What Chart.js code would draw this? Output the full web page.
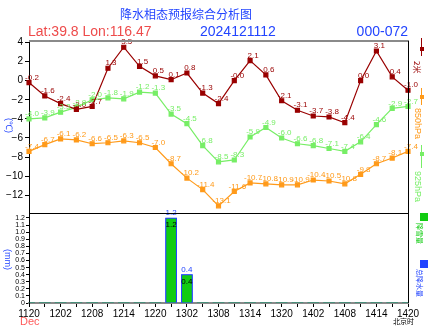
<!DOCTYPE html>
<html>
<head>
<meta charset="utf-8">
<script src="https://cdn.jsdelivr.net/npm/chart.js@4.4.1/dist/chart.umd.min.js"></script>
<style>
html, body { margin: 0; padding: 0; background: #fff; }
#wrap { width: 440px; height: 330px; position: relative; }
</style>
</head>
<body>
<div id="wrap"><canvas id="chart" width="440" height="330"></canvas></div>
<script>
// 3-hourly steps, day+hour (北京时)
const times = ["1120","1123","1202","1205","1208","1211","1214","1217","1220","1223",
  "1302","1305","1308","1311","1314","1317","1320","1323",
  "1402","1405","1408","1411","1414","1417","1420"];

// temperatures (℃)
const t2m   = [-0.2,-1.6,-2.4,-3.0,-2.7,1.3,3.5,1.5,0.5,0.1,0.8,-1.3,-2.4,-0.0,2.1,0.6,-2.1,-3.1,-3.7,-3.8,-4.4,0.0,3.1,0.4,-1.0];
const t850  = [-7.4,-6.7,-6.1,-6.2,-6.6,-6.5,-6.3,-6.5,-7.0,-8.7,-10.2,-11.4,-13.1,-11.6,-10.7,-10.8,-10.9,-10.9,-10.4,-10.5,-10.8,-9.8,-8.7,-8.1,-7.4];
const t925  = [-4.0,-3.9,-3.3,-2.8,-2.0,-1.8,-1.9,-1.2,-1.3,-3.5,-4.5,-6.8,-8.5,-8.3,-5.9,-4.9,-6.0,-6.6,-6.8,-7.1,-7.4,-6.4,-4.6,-2.9,-2.7];

// precipitation (mm)
const snowfall    = [0,0,0,0,0,0,0,0,0,1.2,0.4,0,0,0,0,0,0,0,0,0,0,0,0,0,0];
const totalPrecip = [0,0,0,0,0,0,0,0,0,1.2,0.4,0,0,0,0,0,0,0,0,0,0,0,0,0,0];

const tempTicks   = [-12,-10,-8,-6,-4,-2,0,2,4];
const precipTicks = [0,0.1,0.2,0.3,0.4,0.5,0.6,0.7,0.8,0.9,1.0,1.1,1.2];

const titleText = "降水相态预报综合分析图";
const locText = "Lat:39.8 Lon:116.47";
const runText = "2024121112";
const rangeText = "000-072";

const FONT = "'Liberation Sans', Arial, sans-serif";
const CJK = "'Noto Sans CJK SC', sans-serif";
const RED = '#990000', ORANGE = '#ff9a1a', GREEN = '#77ee66', BLUE = '#2244ff', BARGREEN = '#11cc11';

Chart.defaults.font.family = FONT;
Chart.defaults.color = '#000';

function fmt1(v) {
  if (Object.is(v, -0)) return '-0.0';
  return v.toFixed(1);
}

function vText(ctx, text, x, y, color, font) {
  ctx.save();
  ctx.translate(x, y);
  ctx.rotate(Math.PI / 2);
  ctx.font = font;
  ctx.fillStyle = color;
  ctx.textAlign = 'left';
  ctx.textBaseline = 'middle';
  ctx.fillText(text, 0, 0);
  ctx.restore();
}

const decor = {
  id: 'decor',
  afterDatasetsDraw(chart) {
    const ctx = chart.ctx, a = chart.chartArea;
    const yT = chart.scales.yT;
    ctx.save();
    // value labels on lines
    chart.data.datasets.forEach((ds, di) => {
      if (ds.type !== 'line') return;
      const meta = chart.getDatasetMeta(di);
      ctx.font = '8px ' + FONT;
      ctx.fillStyle = ds.borderColor;
      ctx.textAlign = 'center';
      ctx.textBaseline = 'bottom';
      meta.data.forEach((p, i) => ctx.fillText(fmt1(ds.data[i]), p.x + 3, p.y - 1));
    });
    // bar labels
    const mSnow = chart.getDatasetMeta(3), mTot = chart.getDatasetMeta(4);
    ctx.font = '8px ' + FONT;
    ctx.textAlign = 'center';
    mTot.data.forEach((b, i) => {
      if (!totalPrecip[i]) return;
      ctx.fillStyle = BLUE; ctx.textBaseline = 'bottom';
      ctx.fillText(fmt1(totalPrecip[i]), b.x, b.y - 1);
    });
    mSnow.data.forEach((b, i) => {
      if (!snowfall[i]) return;
      ctx.fillStyle = '#000'; ctx.textBaseline = 'top';
      ctx.fillText(fmt1(snowfall[i]), b.x, b.y + 3);
    });
    // frame
    ctx.strokeStyle = '#8a8a8a'; ctx.lineWidth = 2;
    ctx.beginPath(); ctx.moveTo(a.left, a.top); ctx.lineTo(a.right + 1, a.top); ctx.stroke();
    ctx.strokeStyle = '#000'; ctx.lineWidth = 1;
    ctx.beginPath();
    ctx.moveTo(a.left, Math.round(yT.bottom) + 0.5); ctx.lineTo(a.right, Math.round(yT.bottom) + 0.5);
    ctx.moveTo(Math.round(a.right) + 0.5, a.top); ctx.lineTo(Math.round(a.right) + 0.5, a.bottom);
    ctx.stroke();
    ctx.restore();
  },
  afterDraw(chart) {
    const ctx = chart.ctx, a = chart.chartArea;
    ctx.save();
    // titles
    ctx.textBaseline = 'middle';
    ctx.font = '12px ' + CJK; ctx.fillStyle = BLUE; ctx.textAlign = 'center';
    ctx.fillText(titleText, 186, 14);
    ctx.font = '14px ' + FONT;
    ctx.textAlign = 'left'; ctx.fillStyle = '#ee4b4b';
    ctx.fillText(locText, 28, 32);
    ctx.fillStyle = BLUE;
    ctx.fillText(runText, 200, 32);
    ctx.textAlign = 'right';
    ctx.fillText(rangeText, 408, 32);
    // axis titles
    vText(ctx, '(℃)', 8, 118, BLUE, '9px ' + FONT);
    vText(ctx, '(mm)', 7, 249, BLUE, '9px ' + FONT);
    // bottom notes
    ctx.font = '11px ' + FONT; ctx.fillStyle = '#ff5a5a'; ctx.textAlign = 'left';
    ctx.fillText('Dec', 20, 322);
    ctx.font = '7px ' + CJK; ctx.fillStyle = '#000';
    ctx.fillText('北京时', 393, 321);
    // right legend
    const lx = 421;
    const items = [
      {c: RED, y1: 38, y2: 56, m: 49, t: '2米', ty: 61},
      {c: ORANGE, y1: 88, y2: 105, m: 97, t: '850hPa', ty: 108},
      {c: GREEN, y1: 145, y2: 168, m: 154, t: '925hPa', ty: 171}
    ];
    items.forEach(it => {
      ctx.strokeStyle = it.c; ctx.lineWidth = 1;
      ctx.beginPath(); ctx.moveTo(lx + 0.5, it.y1); ctx.lineTo(lx + 0.5, it.y2); ctx.stroke();
      ctx.fillStyle = it.c; ctx.fillRect(lx - 1, it.m - 2, 4, 4);
      vText(ctx, it.t, lx - 4, it.ty, it.c, (it.t === '2米' ? '8px ' + CJK : '9px ' + FONT));
    });
    ctx.fillStyle = BARGREEN; ctx.fillRect(420, 213, 8, 8);
    vText(ctx, '降雪量', 420, 223, BARGREEN, '7px ' + CJK);
    ctx.fillStyle = BLUE; ctx.fillRect(420, 260, 8, 8);
    vText(ctx, '总降水量', 420, 269, BLUE, '7px ' + CJK);
    ctx.restore();
  }
};

new Chart(document.getElementById('chart'), {
  data: {
    labels: times,
    datasets: [
      {type: 'line', label: '2米', data: t2m, yAxisID: 'yT', borderColor: RED, backgroundColor: RED,
        borderWidth: 1.2, pointStyle: 'rect', pointRadius: 2.8, tension: 0, order: 0},
      {type: 'line', label: '850hPa', data: t850, yAxisID: 'yT', borderColor: ORANGE, backgroundColor: ORANGE,
        borderWidth: 1.2, pointStyle: 'rect', pointRadius: 2.8, tension: 0, order: 0},
      {type: 'line', label: '925hPa', data: t925, yAxisID: 'yT', borderColor: GREEN, backgroundColor: GREEN,
        borderWidth: 1.2, pointStyle: 'rect', pointRadius: 2.8, tension: 0, order: 0},
      {type: 'bar', label: '降雪量', data: snowfall, yAxisID: 'yP', backgroundColor: BARGREEN,
        borderColor: BLUE, borderWidth: c => (c.raw > 0 ? 1 : 0), borderSkipped: 'bottom',
        barThickness: 11, grouped: false, order: 1},
      {type: 'bar', label: '总降水量', data: totalPrecip, yAxisID: 'yP', backgroundColor: BLUE,
        barThickness: 11, grouped: false, order: 2}
    ]
  },
  options: {
    responsive: false,
    animation: false,
    devicePixelRatio: 1,
    layout: {padding: {top: 41, right: 32, bottom: 0, left: 0}},
    plugins: {legend: {display: false}, tooltip: {enabled: false}, title: {display: false}},
    scales: {
      x: {
        type: 'category', offset: false, position: 'bottom',
        grid: {offset: false, drawOnChartArea: false, drawTicks: true, tickLength: 4, color: '#000'},
        border: {color: '#8a8a8a', width: 2},
        ticks: {autoSkip: false, maxRotation: 0, minRotation: 0, padding: 1, font: {size: 10},
          callback: (v, i) => (i % 2 === 0 ? times[i] : '')},
        afterFit: s => { s.height = 27; }
      },
      yT: {
        type: 'linear', position: 'left', stack: 'left', stackWeight: 172, weight: 1,
        min: -13.85, max: 4.15,
        afterBuildTicks: s => { s.ticks = tempTicks.map(v => ({value: v})); },
        grid: {drawOnChartArea: false, tickLength: 4, color: '#000'},
        border: {color: '#000'},
        ticks: {autoSkip: false, padding: 2, font: {size: 10},
          callback: v => (v < 0 ? '\u2212' + Math.abs(v) : String(v))},
        afterFit: s => { s.width = 29; }
      },
      yP: {
        type: 'linear', position: 'left', stack: 'left', stackWeight: 90, weight: 0,
        min: 0, max: 1.27,
        afterBuildTicks: s => { s.ticks = precipTicks.map(v => ({value: v})); },
        grid: {drawOnChartArea: false, tickLength: 3, color: '#000'},
        border: {color: '#000'},
        ticks: {autoSkip: false, padding: 1, font: {size: 7},
          callback: v => (v === 0 ? '0' : v.toFixed(1))},
        afterFit: s => { s.width = 29; }
      }
    }
  },
  plugins: [decor]
});
</script>
</body>
</html>
